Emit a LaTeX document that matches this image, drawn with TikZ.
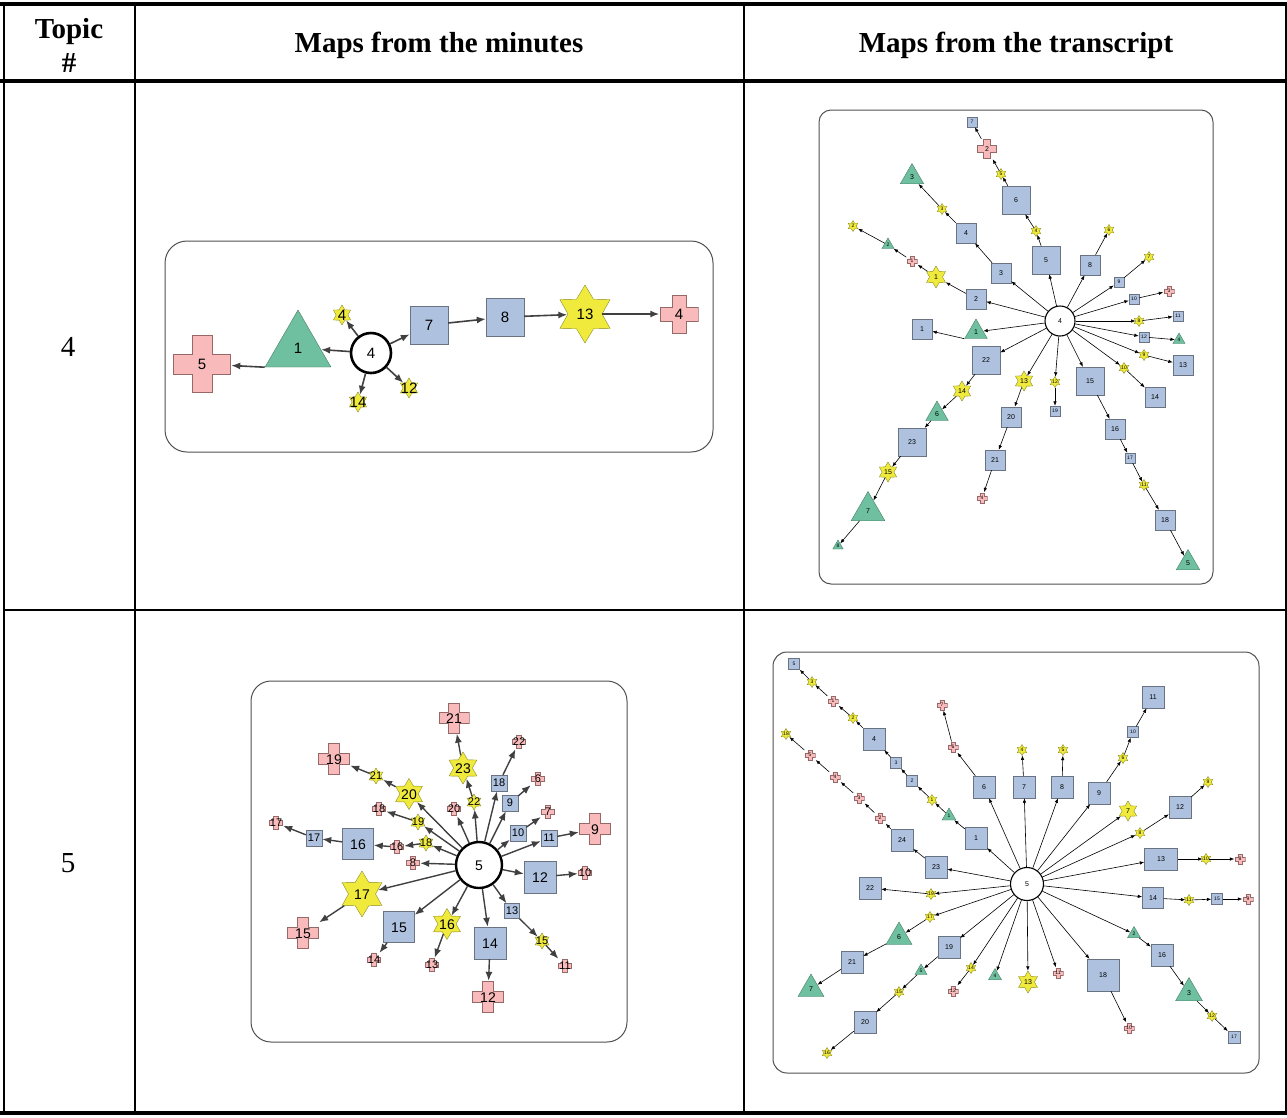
\documentclass[tikz,border=0pt]{standalone}
\usepackage{fontspec}
\setmainfont{Liberation Serif}
\newfontfamily\mapfont{Liberation Sans}
\usetikzlibrary{arrows.meta,shapes.geometric,positioning}

\definecolor{sqfill}{RGB}{174,194,224}
\definecolor{sqline}{RGB}{105,115,130}
\definecolor{trifill}{RGB}{110,192,160}
\definecolor{triline}{RGB}{75,125,100}
\definecolor{hexfill}{RGB}{240,234,60}
\definecolor{hexline}{RGB}{140,140,40}
\definecolor{crsfill}{RGB}{248,186,186}
\definecolor{crsline}{RGB}{150,105,105}
\definecolor{linkgray}{RGB}{64,64,64}
\definecolor{boxline}{RGB}{80,80,80}

% label of zero size, so that it never widens a shape
\newcommand{\lbl}[1]{\smash{\makebox[0pt]{\raisebox{-0.36em}{#1}}}}

\tikzset{
  head/.style={font=\fontsize{29}{34}\selectfont\bfseries, align=center},
  rowno/.style={font=\fontsize{29}{34}\selectfont},
  sq/.style={rectangle, draw=sqline, fill=sqfill, inner sep=0pt, minimum size=#1pt},
  tri/.style={regular polygon, regular polygon sides=3, draw=triline, fill=trifill, inner sep=0pt, minimum size=#1pt},
  hex/.style={star, star points=6, star point ratio=1.7, draw=hexline, fill=hexfill, inner sep=0pt, minimum size=#1pt},
  crs/.style={rectangle, inner sep=0pt, minimum size=#1pt,
    path picture={\pgfmathsetmacro\ph{#1/2-0.7}\pgfmathsetmacro\pw{#1/6+0.3}
      \draw[fill=crsfill, draw=crsline, line width=0.6pt, shift={(path picture bounding box.center)}]
        (\pw,\ph) -- (\pw,\pw) -- (\ph,\pw) -- (\ph,-\pw) -- (\pw,-\pw) -- (\pw,-\ph)
        -- (-\pw,-\ph) -- (-\pw,-\pw) -- (-\ph,-\pw) -- (-\ph,\pw) -- (-\pw,\pw) -- (-\pw,\ph) -- cycle;}},
  hub/.style={circle, draw=black, fill=white, inner sep=0pt, minimum size=#1pt},
  mlink/.style={draw=linkgray, line width=1.6pt, -{Latex[length=9pt,width=7pt]}},
  tlink/.style={draw=black, line width=0.6pt, -{Latex[length=4.5pt,width=3.5pt]}},
  mapbox/.style={draw=boxline, line width=1pt, rounded corners=#1pt},
}

\begin{document}
\begin{tikzpicture}[x=1pt, y=-1pt]
  \useasboundingbox (0,0) rectangle (1287,1117);

  % table
  \draw[line width=4pt] (0,4) -- (1287,4);
  \draw[line width=4pt] (0,81) -- (1287,81);
  \draw[line width=4pt] (0,1113) -- (1287,1113);
  \draw[line width=2.5pt] (4,4) -- (4,1113);
  \draw[line width=1.5pt] (135,4) -- (135,1113);
  \draw[line width=1.5pt] (744,4) -- (744,1113);
  \draw[line width=1.5pt] (1286,4) -- (1286,1113);
  \draw[line width=1.5pt] (4,610) -- (1287,610);

  \node[head] (topic) at (69,45) {Topic\\\#};
  \node[head] (minutes) at (439,45) {Maps from the minutes};
  \node[head] (transcript) at (1016,45) {Maps from the transcript};
  \node[rowno] (row4) at (68,347) {4};
  \node[rowno] (row5) at (68,863) {5};

  % topic 4, minutes
  \begin{scope}[nodes={font=\mapfont\fontsize{15}{15}\selectfont}]
    \draw[mapbox=22] (165,241) rectangle (713,452);
    \node[hub=40, line width=2.6pt] (ahub) at (371,353) {\lbl{4}};
    \node[tri=76] (atri1) at (298,348) {\lbl{1}};
    \node[crs=58] (acr5) at (202,364) {\lbl{5}};
    \node[hex=20] (ahex4) at (342,315) {\lbl{4}};
    \node[hex=20] (ahex14) at (358,402) {\lbl{14}};
    \node[hex=20] (ahex12) at (409,388) {\lbl{12}};
    \node[sq=38] (asq7) at (429,325) {\lbl{7}};
    \node[sq=38] (asq8) at (505,317) {\lbl{8}};
    \node[hex=58] (ahex13) at (585,314) {\lbl{13}};
    \node[crs=39] (acr4) at (679,314) {\lbl{4}};
    \draw[mlink] (atri1.corner 2) -- (acr5);
    \foreach \u/\v in {ahub/atri1, ahub/ahex4, ahub/ahex14, ahub/ahex12, ahub/asq7,
                       asq7/asq8, asq8/ahex13, ahex13/acr4}
      \draw[mlink] (\u) -- (\v);
  \end{scope}

  % topic 4, transcript
  \begin{scope}[nodes={font=\mapfont\fontsize{7}{7}\selectfont},
                sm/.style={font=\mapfont\fontsize{5}{5}\selectfont}]
    \draw[mapbox=12] (819,110) rectangle (1213,584);
    \node[hub=30, line width=1.1pt] (bhub) at (1060,321) {\lbl{4}};
    \node[sq=20] (bsq1) at (922,329) {\lbl{1}};
    \node[tri=26] (btri1) at (976,332) {\lbl{1}};
    \node[sq=20] (bsq2) at (976,299) {\lbl{2}};
    \node[hex=22] (bhex1) at (936,277) {\lbl{1}};
    \node[crs=11, sm] (bcr1) at (912,261) {\lbl{1}};
    \node[tri=14, sm] (btri2) at (888,245) {\lbl{2}};
    \node[hex=11, sm] (bhex2) at (853,226) {\lbl{2}};
    \node[sq=20] (bsq3) at (1001,273) {\lbl{3}};
    \node[sq=20] (bsq4) at (966,233) {\lbl{4}};
    \node[hex=11, sm] (bhex3) at (942,209) {\lbl{3}};
    \node[tri=27] (btri3) at (912,177) {\lbl{3}};
    \node[sq=28] (bsq5) at (1046,260) {\lbl{5}};
    \node[hex=11, sm] (bhex4) at (1036,231) {\lbl{4}};
    \node[sq=28] (bsq6) at (1016,200) {\lbl{6}};
    \node[hex=11, sm] (bhex5) at (1001,174) {\lbl{5}};
    \node[crs=20] (bcr2) at (987,149) {\lbl{2}};
    \node[sq=10, sm] (bsq7) at (972,122) {\lbl{7}};
    \node[sq=20] (bsq8) at (1090,265) {\lbl{8}};
    \node[hex=11, sm] (bhex6) at (1109,230) {\lbl{6}};
    \node[sq=10, sm] (bsq9) at (1119,282) {\lbl{9}};
    \node[hex=11, sm] (bhex7) at (1149,257) {\lbl{7}};
    \node[sq=10, sm] (bsq10) at (1134,299) {\lbl{10}};
    \node[crs=11, sm] (bcr3) at (1169,291) {\lbl{3}};
    \node[hex=11, sm] (bhex8) at (1139,321) {\lbl{8}};
    \node[sq=10, sm] (bsq11) at (1178,316) {\lbl{11}};
    \node[sq=10, sm] (bsq12) at (1144,337) {\lbl{12}};
    \node[tri=14, sm] (btri4) at (1179,340) {\lbl{4}};
    \node[hex=11, sm] (bhex9) at (1144,355) {\lbl{9}};
    \node[sq=20] (bsq13) at (1183,365) {\lbl{13}};
    \node[hex=11, sm] (bhex10) at (1124,368) {\lbl{10}};
    \node[sq=20] (bsq14) at (1155,397) {\lbl{14}};
    \node[sq=28] (bsq15) at (1090,381) {\lbl{15}};
    \node[sq=20] (bsq16) at (1115,429) {\lbl{16}};
    \node[sq=10, sm] (bsq17) at (1130,458) {\lbl{17}};
    \node[hex=11, sm] (bhex11) at (1144,485) {\lbl{11}};
    \node[sq=20] (bsq18) at (1165,520) {\lbl{18}};
    \node[tri=27] (btri5) at (1188,563) {\lbl{5}};
    \node[hex=11, sm] (bhex12) at (1055,382) {\lbl{12}};
    \node[sq=10, sm] (bsq19) at (1055,411) {\lbl{19}};
    \node[hex=20] (bhex13) at (1024,381) {\lbl{13}};
    \node[sq=20] (bsq20) at (1011,417) {\lbl{20}};
    \node[sq=20] (bsq21) at (995,460) {\lbl{21}};
    \node[crs=11, sm] (bcr4) at (982,498) {\lbl{4}};
    \node[sq=28] (bsq22) at (986,360) {\lbl{22}};
    \node[hex=20] (bhex14) at (962,391) {\lbl{14}};
    \node[tri=26] (btri6) at (937,414) {\lbl{6}};
    \node[sq=28] (bsq23) at (912,442) {\lbl{23}};
    \node[hex=20] (bhex15) at (888,472) {\lbl{15}};
    \node[tri=39] (btri7) at (868,511) {\lbl{7}};
    \node[tri=12, sm] (btri8) at (838,546) {\lbl{8}};
    \draw[tlink] (btri1.corner 2) -- (bsq1);
    \foreach \u/\v in {bhub/btri1, bhub/bsq2, bsq2/bhex1, bhex1/bcr1, bcr1/btri2, btri2/bhex2,
                       bhub/bsq3, bsq3/bsq4, bsq4/bhex3, bhex3/btri3,
                       bhub/bsq5, bsq5/bhex4, bhex4/bsq6, bsq6/bhex5, bhex5/bcr2, bcr2/bsq7,
                       bhub/bsq8, bsq8/bhex6, bhub/bsq9, bsq9/bhex7, bhub/bsq10, bsq10/bcr3,
                       bhub/bhex8, bhex8/bsq11, bhub/bsq12, bsq12/btri4, bhub/bhex9, bhex9/bsq13,
                       bhub/bhex10, bhex10/bsq14, bhub/bsq15, bsq15/bsq16, bsq16/bsq17,
                       bsq17/bhex11, bhex11/bsq18, bsq18/btri5, bhub/bhex12, bhex12/bsq19,
                       bhub/bhex13, bhex13/bsq20, bsq20/bsq21, bsq21/bcr4,
                       bhub/bsq22, bsq22/bhex14, bhex14/btri6, btri6/bsq23, bsq23/bhex15,
                       bhex15/btri7, btri7/btri8}
      \draw[tlink] (\u) -- (\v);
  \end{scope}

  % topic 5, minutes
  \begin{scope}[nodes={font=\mapfont\fontsize{14}{14}\selectfont},
                sm/.style={font=\mapfont\fontsize{11}{11}\selectfont}]
    \draw[mapbox=20] (251,681) rectangle (627,1042);
    \node[hub=46, line width=2.4pt] (chub) at (479,865) {\lbl{5}};
    \node[crs=31] (ccr21) at (454,718) {\lbl{21}};
    \node[hex=32] (chex23) at (463,768) {\lbl{23}};
    \node[hex=16, sm] (chex22) at (474,802) {\lbl{22}};
    \node[sq=16, sm] (csq18) at (499,783) {\lbl{18}};
    \node[crs=14, sm] (ccr22) at (519,742) {\lbl{22}};
    \node[sq=16, sm] (csq9) at (510,803) {\lbl{9}};
    \node[crs=14, sm] (ccr6) at (538,779) {\lbl{6}};
    \node[sq=16, sm] (csq10) at (518,833) {\lbl{10}};
    \node[crs=14, sm] (ccr7) at (548,812) {\lbl{7}};
    \node[sq=16, sm] (csq11) at (549,838) {\lbl{11}};
    \node[crs=32] (ccr9) at (595,829) {\lbl{9}};
    \node[crs=14, sm] (ccr20) at (454,809) {\lbl{20}};
    \node[hex=31] (chex20) at (409,794) {\lbl{20}};
    \node[hex=16, sm] (chex21) at (376,776) {\lbl{21}};
    \node[crs=32] (ccr19) at (334,759) {\lbl{19}};
    \node[crs=14, sm] (ccr18) at (379,809) {\lbl{18}};
    \node[hex=16, sm] (chex19) at (418,822) {\lbl{19}};
    \node[hex=16, sm] (chex18) at (426,843) {\lbl{18}};
    \node[crs=14, sm] (ccr16) at (397,847) {\lbl{16}};
    \node[sq=31] (csq16) at (358,844) {\lbl{16}};
    \node[sq=16, sm] (csq17) at (314,838) {\lbl{17}};
    \node[crs=14, sm] (ccr17) at (276,823) {\lbl{17}};
    \node[crs=14, sm] (ccr8) at (413,863) {\lbl{8}};
    \node[hex=46] (chex17) at (362,894) {\lbl{17}};
    \node[crs=32] (ccr15) at (303,933) {\lbl{15}};
    \node[sq=31] (csq15) at (399,927) {\lbl{15}};
    \node[crs=14, sm] (ccr14) at (374,960) {\lbl{14}};
    \node[hex=31] (chex16) at (447,924) {\lbl{16}};
    \node[crs=14, sm] (ccr13) at (432,965) {\lbl{13}};
    \node[sq=32] (csq14) at (490,943) {\lbl{14}};
    \node[crs=32] (ccr12) at (488,997) {\lbl{12}};
    \node[sq=15, sm] (csq13) at (512,911) {\lbl{13}};
    \node[hex=16, sm] (chex15) at (542,941) {\lbl{15}};
    \node[crs=14, sm] (ccr11) at (565,966) {\lbl{11}};
    \node[sq=32] (csq12) at (540,877) {\lbl{12}};
    \node[crs=14, sm] (ccr10) at (585,873) {\lbl{10}};
    \foreach \u/\v in {chub/chex22, chex22/chex23, chex23/ccr21, chub/csq18, csq18/ccr22,
                       chub/csq9, csq9/ccr6, chub/csq10, csq10/ccr7, chub/csq11, csq11/ccr9,
                       chub/ccr20, chub/chex20, chex20/chex21, chex21/ccr19, chub/chex19,
                       chex19/ccr18, chub/chex18, chex18/ccr16, ccr16/csq16, csq16/csq17,
                       csq17/ccr17, chub/ccr8, chub/chex17, chex17/ccr15, chub/csq15,
                       csq15/ccr14, chub/chex16, chex16/ccr13, chub/csq14, csq14/ccr12,
                       chub/csq13, csq13/chex15, chex15/ccr11, chub/csq12, csq12/ccr10}
      \draw[mlink, line width=1.4pt] (\u) -- (\v);
  \end{scope}

  % topic 5, transcript
  \begin{scope}[nodes={font=\mapfont\fontsize{7}{7}\selectfont},
                sm/.style={font=\mapfont\fontsize{5}{5}\selectfont}]
    \draw[mapbox=14] (773,652) rectangle (1259,1073);
    \node[hub=33, line width=1.1pt] (dhub) at (1027,884) {\lbl{5}};
    \node[sq=22] (dsq1) at (976,838) {\lbl{1}};
    \node[tri=16, sm] (dtri1) at (949,816) {\lbl{1}};
    \node[hex=11, sm] (dhex1) at (932,800) {\lbl{1}};
    \node[sq=11, sm] (dsq2) at (912,781) {\lbl{2}};
    \node[sq=11, sm] (dsq3) at (896,763) {\lbl{3}};
    \node[sq=22] (dsq4) at (874,739) {\lbl{4}};
    \node[hex=11, sm] (dhex2) at (853,718) {\lbl{2}};
    \node[crs=11, sm] (dcr1) at (833,701) {\lbl{1}};
    \node[hex=11, sm] (dhex3) at (812,682) {\lbl{3}};
    \node[sq=11, sm] (dsq5) at (794,664) {\lbl{5}};
    \node[sq=22] (dsq23) at (936,867) {\lbl{23}};
    \node[sq=22] (dsq24) at (902,840) {\lbl{24}};
    \node[crs=11, sm] (dcr2) at (880,818) {\lbl{2}};
    \node[crs=11, sm] (dcr3) at (859,798) {\lbl{3}};
    \node[crs=11, sm] (dcr4) at (835,777) {\lbl{4}};
    \node[crs=11, sm] (dcr5) at (810,755) {\lbl{5}};
    \node[hex=11, sm] (dhex18) at (786,734) {\lbl{18}};
    \node[sq=22] (dsq6) at (984,787) {\lbl{6}};
    \node[crs=11, sm] (dcr6) at (953,747) {\lbl{6}};
    \node[crs=11, sm] (dcr7) at (942,705) {\lbl{7}};
    \node[sq=22] (dsq7) at (1024,787) {\lbl{7}};
    \node[hex=11, sm] (dhex4) at (1022,750) {\lbl{4}};
    \node[sq=22] (dsq8) at (1062,787) {\lbl{8}};
    \node[hex=11, sm] (dhex5) at (1063,750) {\lbl{5}};
    \node[sq=22] (dsq9) at (1099,793) {\lbl{9}};
    \node[hex=11, sm] (dhex6) at (1123,758) {\lbl{6}};
    \node[sq=11, sm] (dsq10) at (1133,732) {\lbl{10}};
    \node[sq=22] (dsq11) at (1153,697) {\lbl{11}};
    \node[hex=20] (dhex7) at (1128,811) {\lbl{7}};
    \node[hex=11, sm] (dhex8) at (1140,833) {\lbl{8}};
    \node[sq=22] (dsq12) at (1180,807) {\lbl{12}};
    \node[hex=11, sm] (dhex9) at (1208,782) {\lbl{9}};
    \node[sq=22, minimum width=33pt] (dsq13) at (1161,859) {\lbl{13}};
    \node[hex=11, sm] (dhex10) at (1206,859) {\lbl{10}};
    \node[crs=11, sm] (dcr8) at (1240,859) {\lbl{8}};
    \node[sq=21] (dsq14) at (1153,898) {\lbl{14}};
    \node[hex=11, sm] (dhex11) at (1189,900) {\lbl{11}};
    \node[sq=11, sm] (dsq15) at (1217,899) {\lbl{15}};
    \node[crs=11, sm] (dcr9) at (1248,899) {\lbl{9}};
    \node[tri=15, sm] (dtri2) at (1134,934) {\lbl{2}};
    \node[sq=22] (dsq16) at (1162,955) {\lbl{16}};
    \node[tri=31] (dtri3) at (1189,993) {\lbl{3}};
    \node[hex=11, sm] (dhex12) at (1212,1016) {\lbl{12}};
    \node[sq=12, sm] (dsq17) at (1234,1037) {\lbl{17}};
    \node[sq=32] (dsq18) at (1103,975) {\lbl{18}};
    \node[crs=11, sm] (dcr10) at (1129,1028) {\lbl{10}};
    \node[hex=22] (dhex13) at (1028,982) {\lbl{13}};
    \node[crs=11, sm] (dcr11) at (1058,973) {\lbl{11}};
    \node[tri=15, sm] (dtri4) at (995,976) {\lbl{4}};
    \node[hex=11, sm] (dhex14) at (971,968) {\lbl{14}};
    \node[crs=11, sm] (dcr12) at (953,991) {\lbl{12}};
    \node[sq=22] (dsq19) at (949,947) {\lbl{19}};
    \node[tri=14, sm] (dtri5) at (921,971) {\lbl{5}};
    \node[hex=11, sm] (dhex15) at (899,992) {\lbl{15}};
    \node[sq=22] (dsq20) at (865,1022) {\lbl{20}};
    \node[hex=11, sm] (dhex16) at (827,1053) {\lbl{16}};
    \node[hex=11, sm] (dhex17) at (930,917) {\lbl{17}};
    \node[tri=30] (dtri6) at (899,937) {\lbl{6}};
    \node[sq=22] (dsq21) at (852,962) {\lbl{21}};
    \node[tri=30] (dtri7) at (811,989) {\lbl{7}};
    \node[hex=11, sm] (dhex19) at (931,894) {\lbl{19}};
    \node[sq=22] (dsq22) at (870,888) {\lbl{22}};
    \foreach \u/\v in {dhub/dsq1, dsq1/dtri1, dtri1/dhex1, dhex1/dsq2, dsq2/dsq3, dsq3/dsq4,
                       dsq4/dhex2, dhex2/dcr1, dcr1/dhex3, dhex3/dsq5,
                       dhub/dsq23, dsq23/dsq24, dsq24/dcr2, dcr2/dcr3, dcr3/dcr4, dcr4/dcr5, dcr5/dhex18,
                       dhub/dsq6, dsq6/dcr6, dcr6/dcr7, dhub/dsq7, dsq7/dhex4, dhub/dsq8, dsq8/dhex5,
                       dhub/dsq9, dsq9/dhex6, dhex6/dsq10, dsq10/dsq11,
                       dhub/dhex7, dhub/dhex8, dhex8/dsq12, dsq12/dhex9,
                       dhub/dsq13, dsq13/dhex10, dhex10/dcr8,
                       dhub/dsq14, dsq14/dhex11, dhex11/dsq15, dsq15/dcr9,
                       dhub/dtri2, dtri2/dsq16, dsq16/dtri3, dtri3/dhex12, dhex12/dsq17,
                       dhub/dsq18, dsq18/dcr10, dhub/dhex13, dhub/dcr11, dhub/dtri4,
                       dhub/dhex14, dhex14/dcr12,
                       dhub/dsq19, dsq19/dtri5, dtri5/dhex15, dhex15/dsq20, dsq20/dhex16,
                       dhub/dhex17, dhex17/dtri6, dtri6/dsq21, dsq21/dtri7,
                       dhub/dhex19, dhex19/dsq22}
      \draw[tlink] (\u) -- (\v);
  \end{scope}
\end{tikzpicture}
\end{document}
